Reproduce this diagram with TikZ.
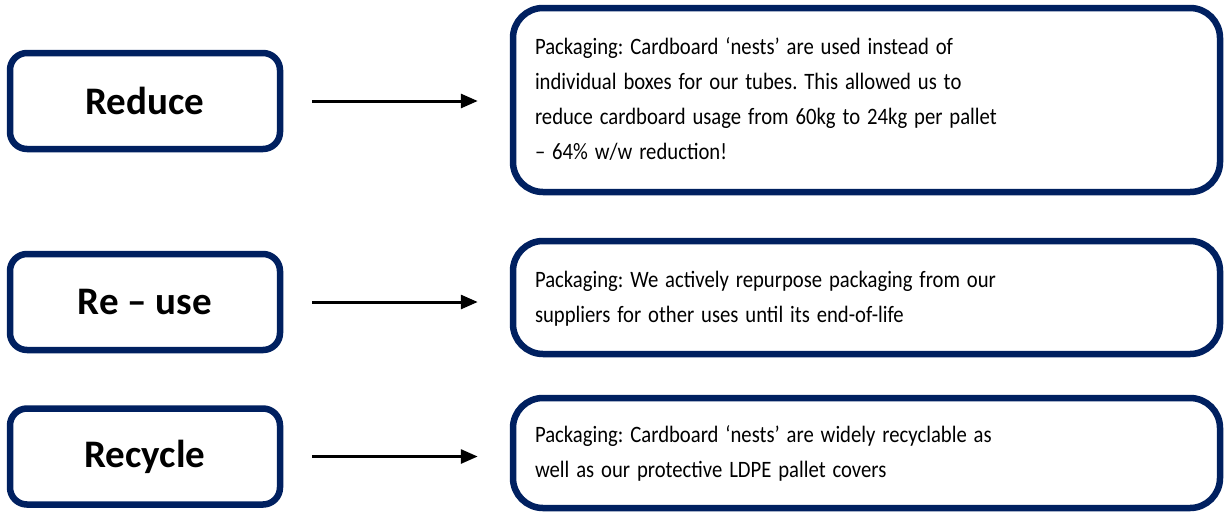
\documentclass[tikz,border=0pt]{standalone}
\usepackage{fontspec}
\usepackage{graphicx}
\setmainfont{Carlito}
\usetikzlibrary{arrows.meta}

\definecolor{navyline}{RGB}{0,32,96}

% body text is set a little narrow, as in the original slide
\newcommand{\squeezelines}[1]{\scalebox{0.88}[1]{\begin{tabular}{@{}l@{}}#1\end{tabular}}}

\tikzset{
  stagebox/.style={draw=navyline, line width=6.5pt, rounded corners=17pt,
    minimum width=270pt, minimum height=96pt, inner sep=0pt,
    font=\fontsize{39}{42}\selectfont\bfseries},
  infobox/.style={draw=navyline, line width=6.5pt, rounded corners=30pt,
    minimum width=707pt, inner xsep=22pt, inner ysep=0pt,
    text width=663pt, align=left,
    font=\fontsize{23.5}{35}\selectfont\frenchspacing},
  flowarrow/.style={-{Triangle[length=17pt,width=14pt]}, line width=3pt,
    shorten <=29pt, shorten >=32pt}
}

\begin{document}
\begin{tikzpicture}[x=1pt, y=-1pt]
    \useasboundingbox (0,0) rectangle (1225,512);

    % left column: the three stages
    \node[stagebox] (reduce)  at (145,101)   {Reduce};
    \node[stagebox] (reuse)   at (145,302)   {Re -- use};
    \node[stagebox] (recycle) at (145,456.5) {Recycle};

    % right column: what is done for each stage
    \node[infobox, minimum height=184pt] (reduceinfo) at (866.5,100)
        {\squeezelines{Packaging: Cardboard `nests' are used instead of\\
         individual boxes for our tubes. This allowed us to\\
         reduce cardboard usage from 60kg to 24kg per pallet\\
         -- 64\% w/w reduction!}};
    \node[infobox, minimum height=113pt] (reuseinfo) at (866.5,297.5)
        {\squeezelines{Packaging: We actively repurpose packaging from our\\
         suppliers for other uses until its end-of-life}};
    \node[infobox, minimum height=110pt] (recycleinfo) at (866.5,453)
        {\squeezelines{Packaging: Cardboard `nests' are widely recyclable as\\
         well as our protective LDPE pallet covers}};

    % arrows from stage to description
    \draw[flowarrow] (reduce.east)  -- (reduce.east -| reduceinfo.west);
    \draw[flowarrow] (reuse.east)   -- (reuse.east -| reuseinfo.west);
    \draw[flowarrow] (recycle.east) -- (recycle.east -| recycleinfo.west);
\end{tikzpicture}
\end{document}
